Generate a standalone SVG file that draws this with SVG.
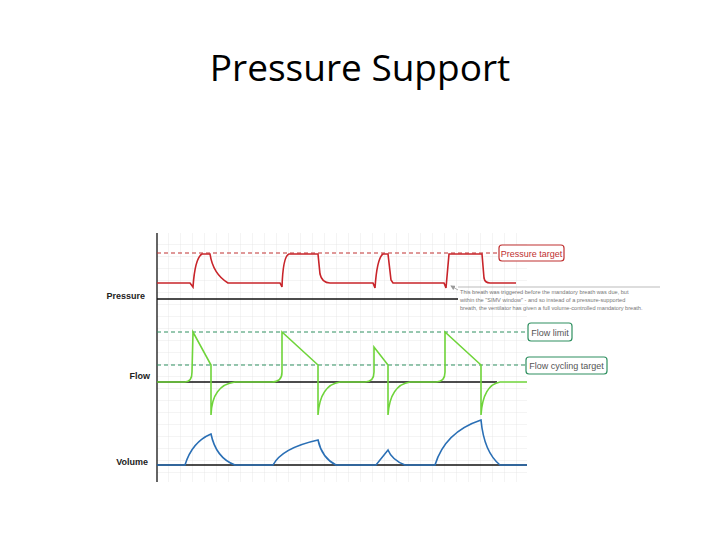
<svg xmlns="http://www.w3.org/2000/svg" width="720" height="540" viewBox="0 0 720 540">
<defs>
<pattern id="grid" x="157" y="233" width="12" height="12" patternUnits="userSpaceOnUse"><path d="M12 0V12M0 12H12" fill="none" stroke="#e2e2e2" stroke-width="0.8"/></pattern>
<marker id="ar" markerWidth="6" markerHeight="6" refX="5" refY="3" orient="auto"><path d="M0,0L6,3L0,6z" fill="#999"/></marker>
</defs>
<style>
.lbl{font-family:"Liberation Sans Narrow","Liberation Sans",sans-serif;font-size:9px;font-weight:bold;fill:#222}
.dr{stroke:#c03030;stroke-dasharray:4,3;stroke-width:1}
.dg{stroke:#2f9060;stroke-dasharray:4,3;stroke-width:1}
.p{fill:none;stroke:#c8242a;stroke-width:1.6}
.f{fill:none;stroke:#6fd43a;stroke-width:1.6}
.v{fill:none;stroke:#2a6fb5;stroke-width:1.6}
.ax{stroke:#111;stroke-width:1.3}
.box{font-family:"Liberation Sans",sans-serif;font-size:9px}
.note{font-family:"Liberation Sans",sans-serif;font-size:5.6px;fill:#777}
</style>
<rect width="720" height="540" fill="#fff"/>
<text x="360" y="81" text-anchor="middle" font-family="Open Sans, Liberation Sans, sans-serif" font-size="37" fill="#000">Pressure Support</text>
<rect x="157" y="233" width="370" height="249" fill="url(#grid)"/>
<line x1="157" y1="233" x2="157" y2="482" class="ax"/>
<g id="pressure">
<text x="145" y="299" class="lbl" text-anchor="end">Pressure</text>
<line x1="157" y1="299" x2="458" y2="299" class="ax"/>
<line x1="157" y1="253" x2="498" y2="253" class="dr"/>
<path class="p" d="M157,283H190L193,287Q195,258 202,254H210Q213,274 228,283H280L282,287Q283,256 289,254H318L320,274Q322,283 330,283H373L375,288Q377,258 383,254H388L391,280L393,283H444L446,288L449,254H482L484,278Q485,283 490,283H516"/>
</g>
<g id="flow">
<text x="150" y="379" class="lbl" text-anchor="end">Flow</text>
<line x1="157" y1="382" x2="497" y2="382" class="ax"/>
<line x1="157" y1="332" x2="528" y2="332" class="dg"/>
<line x1="157" y1="365" x2="526" y2="365" class="dg"/>
<path class="f" d="M157,382H185Q192,382 192,372L193,332L211,365V415Q212,385 235,382H272Q282,382 282,372V332L318,365V415Q320,385 340,382H365Q374,382 374,372V347L388,365V415Q390,385 410,382H436Q445,382 445,372V332L481,365V415Q483,385 500,382H527"/>
</g>
<g id="volume">
<text x="148" y="465" class="lbl" text-anchor="end">Volume</text>
<line x1="157" y1="465" x2="527" y2="465" class="ax"/>
<path class="v" d="M157,465H185Q192,442 211,434Q216,458 235,465H273Q282,448 318,440Q322,458 336,465H376L388,450Q392,460 405,465H435Q445,432 481,420Q484,452 500,465H527"/>
</g>
<g id="callouts">
<rect x="499" y="245" width="65" height="16" rx="3" fill="#fff" stroke="#c03030" stroke-width="1.2"/>
<text x="531.5" y="256.5" class="box" text-anchor="middle" fill="#c03030">Pressure target</text>
<rect x="528" y="323" width="44" height="18" rx="3" fill="#fff" stroke="#2f9060" stroke-width="1.2"/>
<text x="550" y="335.5" class="box" text-anchor="middle" fill="#555">Flow limit</text>
<rect x="526" y="357" width="81" height="17" rx="3" fill="#fff" stroke="#2f9060" stroke-width="1.2"/>
<text x="566.5" y="369" class="box" text-anchor="middle" fill="#555">Flow cycling target</text>
<line x1="660" y1="287" x2="458" y2="287" stroke="#aaa" stroke-width="0.8"/>
<line x1="458" y1="290" x2="451" y2="286" stroke="#999" stroke-width="0.8" marker-end="url(#ar)"/>
<text x="460" y="294" class="note">This breath was triggered before the mandatory breath was due, but</text>
<text x="460" y="302" class="note">within the "SIMV window" - and so instead of a pressure-supported</text>
<text x="460" y="310" class="note">breath, the ventilator has given a full volume-controlled mandatory breath.</text>
</g>
</svg>
